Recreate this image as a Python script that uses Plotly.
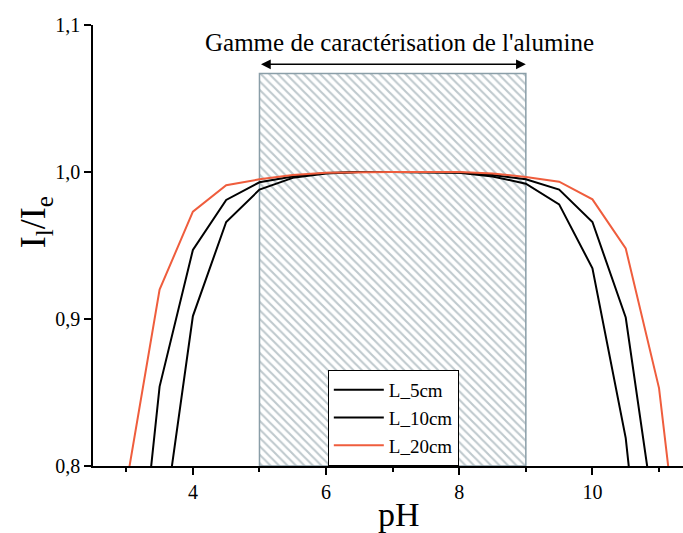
import plotly.graph_objects as go

# ---- data ----
pH = [3.0, 3.5, 4.0, 4.5, 5.0, 5.5, 6.0, 6.5, 7.0, 7.5, 8.0, 8.5, 9.0, 9.5, 10.0, 10.5, 11.0, 11.5]
L_5cm = [0.50, 0.740, 0.902, 0.966, 0.988, 0.996, 0.999, 1.0, 1.0, 1.0, 0.9995, 0.997, 0.992, 0.978, 0.9345, 0.819, 0.63, 0.40]
L_10cm = [0.64, 0.854, 0.947, 0.981, 0.993, 0.997, 0.9993, 1.0, 1.0, 1.0, 0.9997, 0.998, 0.995, 0.988, 0.966, 0.901, 0.744, 0.55]
L_20cm = [0.787, 0.920, 0.973, 0.991, 0.995, 0.998, 0.9995, 1.0, 1.0, 1.0, 1.0, 0.999, 0.9966, 0.9934, 0.9814, 0.948, 0.853, 0.66]
series_names = ["L_5cm", "L_10cm", "L_20cm"]

range_pH = [5.0, 9.0]       # characterisation range of alumina
range_top = 1.067           # top of hatched box
arrow_y = 1.0733
label_text = "Gamme de caractérisation de l'alumine"
label_pos = [7.1, 1.0878]

x_ticks = [4, 6, 8, 10]
y_ticks = [0.8, 0.9, 1.0, 1.1]
x_title = "pH"
y_title = "I<sub>l</sub>/I<sub>e</sub>"

FONT = "Liberation Serif"
RED = "#ef5d3d"

fig = go.Figure()

# hatched range box
fig.add_trace(go.Bar(
    x=[(range_pH[0] + range_pH[1]) / 2], width=[range_pH[1] - range_pH[0]],
    base=[0.8], y=[range_top - 0.8],
    marker=dict(color="white",
                pattern=dict(shape="\\", fgcolor="#7f939c", bgcolor="white", size=6, solidity=0.35),
                line=dict(color="#8a9ea8", width=1.5)),
    showlegend=False, hoverinfo="skip",
))

for name, ys, col in zip(series_names, [L_5cm, L_10cm, L_20cm], ["black", "black", RED]):
    fig.add_trace(go.Scatter(x=pH, y=ys, mode="lines", name=name,
                             line=dict(color=col, width=2)))

# double-headed arrow
fig.add_annotation(x=range_pH[1], y=arrow_y, ax=range_pH[0], ay=arrow_y,
                   xref="x", yref="y", axref="x", ayref="y",
                   text="", showarrow=True, arrowhead=2, startarrowhead=2,
                   arrowside="end+start", arrowsize=1.3, startarrowsize=1.3,
                   arrowwidth=1.5, arrowcolor="black")
fig.add_annotation(x=label_pos[0], y=label_pos[1], xref="x", yref="y",
                   text=label_text, showarrow=False,
                   font=dict(family=FONT, size=25, color="black"))

# axis titles
fig.add_annotation(x=0.519, y=-0.111, xref="paper", yref="paper", text=x_title,
                   showarrow=False, xanchor="center", yanchor="middle",
                   font=dict(family=FONT, size=34, color="black"))
fig.add_annotation(x=-0.098, y=0.553, xref="paper", yref="paper", text=y_title,
                   showarrow=False, xanchor="center", yanchor="middle", textangle=-90,
                   font=dict(family=FONT, size=36, color="black"))

fig.update_layout(
    width=683, height=533,
    margin=dict(l=93, r=0, t=25, b=67),
    paper_bgcolor="white", plot_bgcolor="white",
    separators=", ",
    font=dict(family=FONT, color="black"),
    showlegend=True,
    legend=dict(x=0.398, y=0, xanchor="left", yanchor="bottom",
                bgcolor="white", bordercolor="black", borderwidth=1,
                font=dict(family=FONT, size=19, color="black"),
                itemwidth=50, tracegroupgap=0),
    xaxis=dict(range=[2.5, 11.36], tickvals=x_ticks, ticks="outside", ticklen=7, tickwidth=1.5,
               tickcolor="black", showline=True, linecolor="black", linewidth=1.5,
               showgrid=False, zeroline=False, automargin=False,
               tickfont=dict(family=FONT, size=20),
               minor=dict(dtick=1, tick0=3, ticks="outside", ticklen=4, tickwidth=1.5, tickcolor="black", showgrid=False)),
    yaxis=dict(range=[0.8, 1.1], tickvals=y_ticks, tickformat=".1f", ticks="outside", ticklen=7,
               tickwidth=1.5, tickcolor="black", showline=True, linecolor="black", linewidth=1.5,
               showgrid=False, zeroline=False, automargin=False,
               tickfont=dict(family=FONT, size=20)),
)

fig.write_html("out.html", config={"displayModeBar": False},
               post_script="document.body.style.margin='0';document.body.style.overflow='hidden';")
